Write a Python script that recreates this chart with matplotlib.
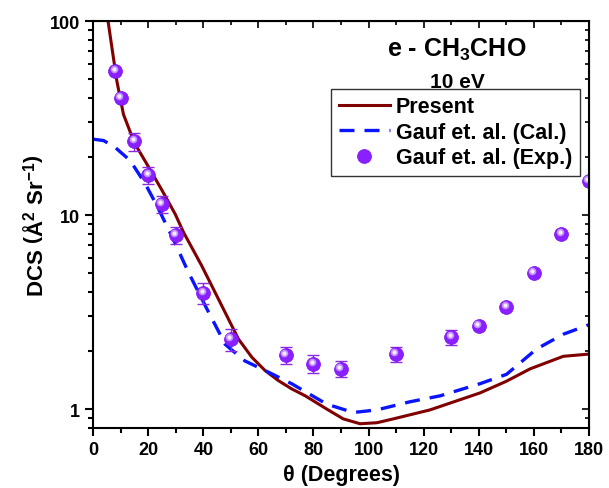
import numpy as np
import matplotlib
matplotlib.use("Agg")
import matplotlib.pyplot as plt
import matplotlib.transforms as mtransforms
from matplotlib.ticker import MultipleLocator, LogLocator, NullFormatter, FixedLocator

plt.rcParams['font.family'] = ['Liberation Sans', 'DejaVu Sans']
plt.rcParams['font.weight'] = 'bold'
plt.rcParams['mathtext.fontset'] = 'custom'
plt.rcParams['mathtext.rm'] = 'Liberation Sans:bold'
plt.rcParams['mathtext.it'] = 'Liberation Sans:bold'
plt.rcParams['mathtext.bf'] = 'Liberation Sans:bold'

# Present calculation
present_theta = [5, 5.4, 6.8, 8.6, 11, 15, 20, 25, 29.8, 32.8, 39.4, 47.9, 52.7,
                 57.6, 62.4, 67.3, 72.1, 77, 84.8, 90.8, 96.9, 103, 109, 122.3,
                 140.4, 150, 158.6, 170.7, 180]
present_dcs = [108, 100, 73, 49, 33, 23.5, 17.8, 13.4, 10.1, 8.15, 5.48, 3.15, 2.30,
               1.85, 1.58, 1.40, 1.27, 1.17, 1.0, 0.89, 0.84, 0.85, 0.89, 0.99,
               1.21, 1.39, 1.61, 1.87, 1.92]

# Gauf et al. calculation
cal_theta = [0, 3.8, 8, 13.4, 18.9, 23.1, 29.1, 34.6, 41.3, 48, 55.1, 63.6, 72.1,
             84.8, 94.5, 103, 115, 126, 140.4, 150.1, 161, 170.7, 180]
cal_dcs = [24.6, 24.2, 22.3, 19.1, 14.5, 11.2, 7.5, 5.06, 3.28, 2.15, 1.77, 1.55,
           1.35, 1.06, 0.96, 0.99, 1.09, 1.17, 1.35, 1.51, 2.04, 2.43, 2.72]

# Gauf et al. experiment
exp_theta = [8, 10, 15, 20, 25, 30, 40, 50, 70, 80, 90, 110, 130, 140, 150, 160, 170, 180]
exp_dcs = [55, 40, 24, 16.1, 11.4, 7.9, 3.96, 2.3, 1.9, 1.71, 1.61, 1.92, 2.35,
           2.68, 3.36, 5.0, 8.0, 15.0]
exp_err = [0, 0, 2.5, 1.6, 1.2, 0.8, 0.5, 0.3, 0.2, 0.18, 0.15, 0.17, 0.2,
           0, 0, 0, 0, 0]

fig = plt.figure(figsize=(6.09, 4.89), dpi=100)
ax = fig.add_axes([0.153, 0.123, 0.814, 0.832])

ax.plot(present_theta, present_dcs, color='#800000', lw=2.2, label='Present')
ax.plot(cal_theta, cal_dcs, color='#0a14ff', lw=2.4, ls=(0, (4.5, 3)),
        label='Gauf et. al. (Cal.)')
ax.errorbar(exp_theta, exp_dcs, yerr=exp_err, fmt='none', ecolor='#8a2be2',
            elinewidth=1, capsize=4, capthick=1)
ax.plot(exp_theta, exp_dcs, 'o', color='#8a1fff', ms=10, mec='#7a10ee', mew=0.5,
        label='Gauf et. al. (Exp.)')
# sphere highlight, shifted up-left a little
shift = mtransforms.ScaledTranslation(-1.2 / 72, 1.5 / 72, fig.dpi_scale_trans)
ax.plot(exp_theta, exp_dcs, 'o', color='#c99cff', ms=5.5, mew=0, alpha=0.9,
        transform=ax.transData + shift)
ax.plot(exp_theta, exp_dcs, 'o', color='#f6ecff', ms=3, mew=0,
        transform=ax.transData + shift)

ax.set_yscale('log')
ax.set_xlim(0, 180)
ax.set_ylim(0.8, 100)
ax.xaxis.set_major_locator(MultipleLocator(20))
ax.xaxis.set_minor_locator(MultipleLocator(10))
ax.yaxis.set_major_locator(FixedLocator([1, 10, 100]))
ax.yaxis.set_minor_locator(LogLocator(base=10, subs=np.arange(2, 10)))
ax.yaxis.set_minor_formatter(NullFormatter())
ax.set_yticklabels(['1', '10', '100'])

for s in ax.spines.values():
    s.set_linewidth(1.5)
ax.tick_params(which='both', direction='out', width=1.5, labelsize=13)
ax.tick_params(which='major', length=6)
ax.tick_params(which='minor', length=3.5)

# mirrored inward ticks on top/right
axt = ax.secondary_xaxis('top')
axt.xaxis.set_major_locator(MultipleLocator(20))
axt.xaxis.set_minor_locator(MultipleLocator(10))
axt.tick_params(which='both', direction='in', width=1.2, labeltop=False)
axt.tick_params(which='major', length=5)
axt.tick_params(which='minor', length=3)
axr = ax.secondary_yaxis('right')
axr.yaxis.set_major_locator(FixedLocator([1, 10, 100]))
axr.yaxis.set_minor_locator(LogLocator(base=10, subs=np.arange(2, 10)))
axr.tick_params(which='both', direction='in', width=1.2, labelright=False)
axr.tick_params(which='major', length=5)
axr.tick_params(which='minor', length=3)

ax.set_xlabel('θ (Degrees)', fontsize=15.5, fontweight='bold', labelpad=4)
ax.set_ylabel(r'DCS $\left(\mathrm{\AA^{2}\ Sr^{-1}}\right)$', fontsize=16,
              fontweight='bold', labelpad=1)

ax.text(0.734, 0.915, r'e - CH$_3$CHO', transform=ax.transAxes, fontsize=18,
        fontweight='bold', ha='center', va='baseline')
ax.text(0.734, 0.838, '10 eV', transform=ax.transAxes, fontsize=15,
        fontweight='bold', ha='center', va='baseline')

leg = ax.legend(loc='upper right', bbox_to_anchor=(0.982, 0.833), fontsize=15.5,
                frameon=True, fancybox=False, edgecolor='black', handlelength=2.35,
                borderpad=0.35, labelspacing=0.2, handletextpad=0.3,
                borderaxespad=0)
leg.get_frame().set_linewidth(1.0)
for t in leg.get_texts():
    t.set_fontweight('bold')

fig.savefig('out.png', dpi=100)
